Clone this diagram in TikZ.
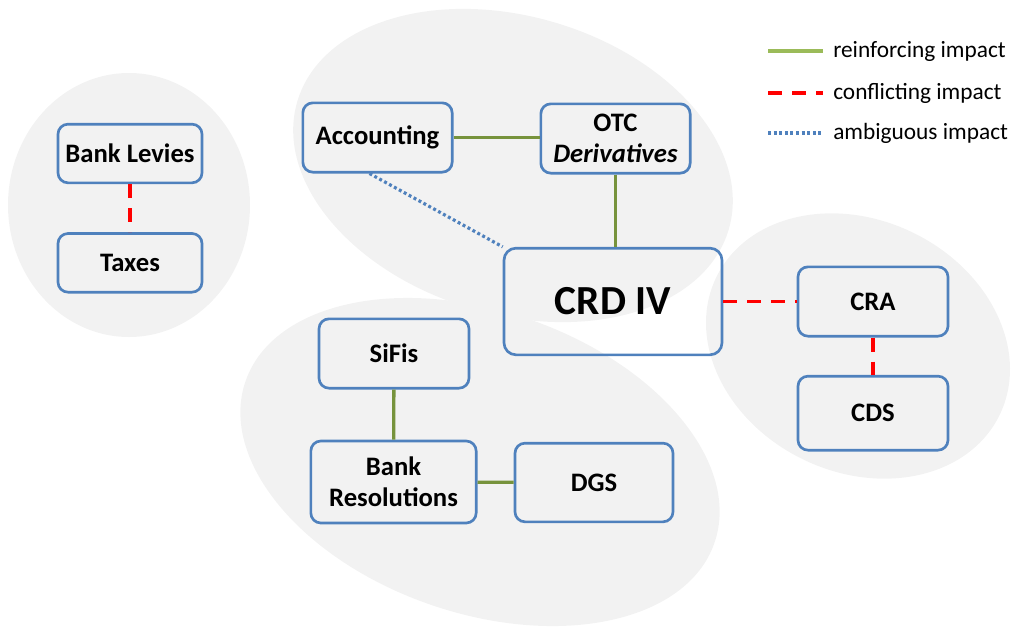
\documentclass[tikz,border=0pt]{standalone}
\usepackage{fontspec}
\setmainfont{Carlito}
\usetikzlibrary{positioning}
\definecolor{boxblue}{HTML}{4F81BD}
\definecolor{reinf}{HTML}{77933C}
\definecolor{reinfkey}{HTML}{9BBB59}
\definecolor{blob}{HTML}{F2F2F2}

\begin{document}
\begin{tikzpicture}[x=0.75pt, y=-0.75pt, node distance=36pt,
    box/.style={draw=boxblue, line width=2pt, rounded corners=7.5pt, align=center, inner sep=2pt, font=\bfseries\fontsize{20}{23}\selectfont},
    grp/.style={fill=blob},
    plus/.style={draw=reinf, line width=2.5pt},
    pluskey/.style={draw=reinfkey, line width=3pt},
    minus/.style={draw=red, line width=2.5pt, dash pattern=on 10.5pt off 7.5pt},
    amb/.style={draw=boxblue, line width=2.4pt, dash pattern=on 2.2pt off 2pt},
    keyt/.style={anchor=west, inner sep=0pt, font=\fontsize{17.5}{20}\selectfont}]
    \useasboundingbox (0,0) rectangle (1015,626);

    % groups
    \fill[grp] (129,205) ellipse (121 and 132);
    \fill[grp, rotate around={-16.6:(513,165.5)}] (513,165.5) ellipse (225 and 149);
    \fill[grp, rotate around={-19:(480,462)}] (480,462) ellipse (248 and 151);
    \fill[grp, rotate around={-26:(858,346)}] (858,346) ellipse (157.5 and 126);

    \node[box, minimum width=108pt, minimum height=44pt] (levies) at (130,153.5) {Bank Levies};
    \node[box, minimum width=108pt, minimum height=44pt, below=of levies] (taxes) {Taxes};

    \node[box, minimum width=112pt, minimum height=52pt] (acc) at (377.5,137.5) {Accounting};
    \node[box, minimum width=112pt, minimum height=52pt] (otc) at (615.5,138.5) {OTC\\\itshape Derivatives};
    \node[box, minimum width=163.5pt, minimum height=80pt, rounded corners=9pt, font=\bfseries\fontsize{31}{36}\selectfont] (crd) at (613,301.5) {CRD IV};

    \node[box, minimum width=112.5pt, minimum height=52pt] (cra) at (873,301.5) {CRA};
    \node[box, minimum width=112.5pt, minimum height=55.5pt, below=28pt of cra] (cds) {CDS};

    \node[box, minimum width=112.5pt, minimum height=52pt] (sifis) at (394,353.5) {SiFis};
    \node[box, minimum width=124pt, minimum height=61.5pt] (res) at (393.5,482) {Bank\\Resolutions};
    \node[box, minimum width=118.5pt, minimum height=59pt] (dgs) at (594,482.5) {DGS};

    \draw[plus] (acc.east) -- (otc.west |- acc.east);
    \draw[plus] (otc.south) -- (otc.south |- crd.north);
    \draw[amb] ([xshift=-6pt]acc.south) -- (crd.north west);
    \draw[minus] (levies) -- (taxes);
    \draw[minus] (crd) -- (cra);
    \draw[minus] (cra) -- (cds);
    \draw[plus] (sifis) -- (res);
    \draw[plus] (res) -- (dgs);

    % legend
    \foreach \y/\sty/\txt [count=\i] in {51/pluskey/reinforcing impact, 93/minus/conflicting impact, 133/amb/ambiguous impact} {
        \coordinate (ka\i) at (768,\y);
        \coordinate (kb\i) at (823,\y);
        \draw[\sty] (ka\i) -- (kb\i);
        \node[keyt, right=7.5pt of kb\i] (key\i) {\txt};
    }
\end{tikzpicture}
\end{document}
